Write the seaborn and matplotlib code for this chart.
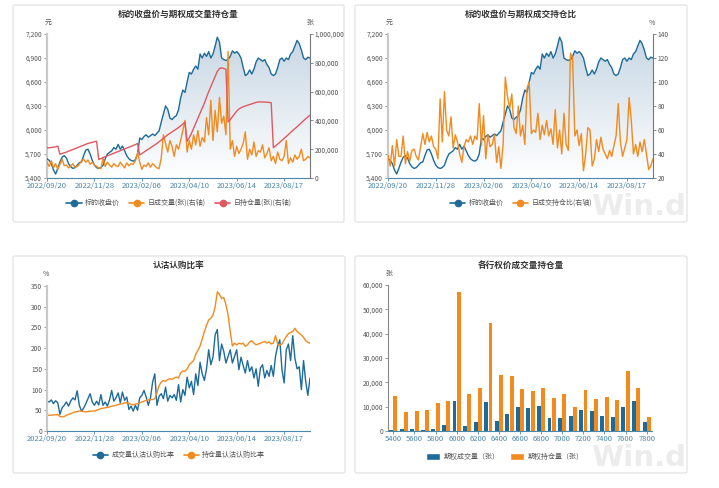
import numpy as np
import pandas as pd
import seaborn as sns
import matplotlib.pyplot as plt
from matplotlib.lines import Line2D
from matplotlib.patches import Patch, Polygon, FancyBboxPatch
from matplotlib.colors import LinearSegmentedColormap
from matplotlib.ticker import StrMethodFormatter

# ---- data (one point per trading-day step) ----
date_labels = ["2022/09/20", "2022/11/28", "2023/02/06", "2023/04/10", "2023/06/14", "2023/08/17"]
date_ticks = [0, 22, 44, 66, 88, 110]

close_price = [
    5640, 5620, 5580, 5500, 5450, 5520, 5600, 5660, 5680, 5650,
    5580, 5540, 5520, 5530, 5560, 5590, 5600, 5680, 5750, 5760,
    5700, 5620, 5560, 5530, 5520, 5530, 5560, 5640, 5700, 5720,
    5740, 5780, 5760, 5820, 5760, 5800, 5740, 5680, 5640, 5620,
    5610, 5630, 5700, 5900, 5880, 5920, 5940, 5910, 5930, 5950,
    5930, 5960, 5990, 6100, 6200, 6300, 6260, 6150, 6130, 6160,
    6180, 6250, 6400, 6500, 6470, 6600, 6720, 6700, 6760, 6800,
    6760, 6950, 6900, 6960, 6920, 6980, 6900, 6950, 7050, 7160,
    7100, 6900, 6880, 6870, 6880, 6920, 6990, 6960, 6980, 6950,
    6900, 6780, 6680, 6700, 6750, 6700, 6760, 6850, 6900, 6880,
    6860, 6880, 6820, 6780, 6700, 6680, 6700, 6780, 6880, 6900,
    6860, 6900, 6880, 6950, 6980, 7050, 7120, 7080, 7000, 6900,
    6880, 6910, 6900,
]

# daily option volume, thousands of contracts
daily_volume_k = [
    110, 80, 120, 70, 100, 60, 95, 130, 85, 90,
    70, 85, 100, 75, 80, 95, 120, 130, 110, 125,
    95, 110, 90, 80, 70, 65, 140, 80, 110, 90,
    75, 100, 85, 80, 110, 90, 70, 105, 85, 100,
    95, 120, 175, 110, 60, 90, 80, 105, 75, 100,
    85, 70, 65, 140, 300, 240, 180, 260, 220, 150,
    230, 200, 260, 330, 400, 180, 260, 200, 300, 230,
    330, 220, 280, 250, 420, 300, 540, 260, 470, 320,
    560, 380, 430, 300, 880, 200, 260, 150, 220, 170,
    200, 240, 320, 130, 200, 160, 250, 150, 190, 180,
    230, 140, 170, 210, 120, 150, 100, 180, 130, 120,
    150, 260, 100, 140, 110, 160, 130, 150, 200, 120,
    130, 150, 140,
]

# daily open interest, thousands of contracts
daily_oi_k = [
    210, 210, 212, 214, 216, 222, 165, 170, 175, 180,
    186, 192, 198, 204, 210, 216, 222, 228, 234, 240,
    244, 248, 252, 255, 128, 135, 142, 148, 154, 160,
    166, 172, 178, 184, 190, 196, 202, 208, 214, 220,
    226, 232, 240, 160, 170, 180, 190, 200, 210, 220,
    230, 240, 252, 264, 276, 288, 300, 310, 320, 330,
    340, 350, 362, 375, 388, 255, 280, 310, 345, 380,
    415, 450, 485, 520, 560, 600, 635, 670, 705, 740,
    760, 765, 760, 755, 390, 405, 425, 445, 465, 478,
    488, 495, 500, 505, 510, 515, 520, 525, 528, 528,
    528, 527, 526, 525, 522, 210, 222, 235, 248, 262,
    275, 288, 302, 316, 330, 343, 356, 370, 384, 398,
    411, 424, 437,
]

# volume / open interest, %
vol_oi_ratio = [
    39, 30, 47, 30, 52, 38, 38, 55, 32, 42,
    34, 43, 44, 38, 35, 46, 57, 48, 58, 50,
    55, 46, 44, 36, 86, 50, 92, 60, 55, 71,
    45, 56, 50, 40, 33, 46, 52, 50, 55, 48,
    55, 52, 82, 47, 72, 36, 56, 46, 48, 56,
    33, 46, 28, 48, 104, 88, 78, 90, 62, 57,
    80, 55, 64, 48, 95, 100, 57, 60, 58, 74,
    52, 64, 56, 68, 55, 61, 48, 77, 45, 60,
    40, 74, 48, 43, 124, 120, 55, 60, 47, 57,
    26, 40, 62, 60, 30, 36, 52, 42, 54, 44,
    40, 36, 43, 38, 47, 55, 82, 50, 38, 45,
    52, 87, 68, 40, 48, 38, 50, 42, 52, 40,
    27, 30, 36,
]

# put/call ratio by volume and by open interest, %
pcr_volume = [
    72, 70, 75, 66, 73, 68, 40, 56, 62, 70,
    60, 72, 80, 75, 97, 62, 48, 55, 66, 78,
    90, 70, 62, 72, 63, 88, 62, 70, 60, 75,
    98, 72, 80, 92, 68, 94, 74, 82, 52, 60,
    48, 62, 50, 80, 86, 98, 82, 62, 80, 118,
    138, 62, 84, 90, 78, 106, 72, 86, 80, 88,
    74, 112, 70, 100, 86, 130, 104, 120, 88, 138,
    110, 166, 138, 122, 150, 196, 160, 178, 232, 245,
    170, 210, 192, 164, 180, 196, 164, 180, 196, 148,
    178, 158, 140, 170, 144, 155, 128, 150, 108, 152,
    160, 128, 146, 132, 158, 132, 180, 205, 220, 148,
    116, 196, 210, 170, 230, 176, 150, 155, 100, 170,
    120, 86, 128,
]
pcr_oi = [
    38, 38, 38, 39, 39, 40, 35, 34, 35, 38,
    40, 42, 44, 46, 47, 48, 48, 47, 46, 47,
    48, 48, 48, 50, 52, 54, 55, 56, 57, 58,
    60, 61, 62, 64, 65, 66, 68, 68, 67, 64,
    63, 65, 66, 68, 70, 72, 74, 75, 76, 76,
    78, 92, 110, 118, 122, 120, 124, 126, 125, 128,
    130, 128, 140, 145, 144, 150, 160, 165, 170, 185,
    195, 205, 222, 240, 255, 268, 272, 280, 300, 336,
    330, 320, 322, 305, 280, 240, 205, 212, 208, 212,
    210, 212, 204, 208, 215, 218, 212, 208, 210, 212,
    214, 216, 212, 215, 210, 212, 230, 210, 207, 210,
    220, 228, 235, 238, 240, 248, 240, 236, 232, 226,
    218, 214, 212,
]

strikes = ["5400", "5500", "5600", "5700", "5800", "5900", "6000", "6100", "6200",
           "6300", "6400", "6500", "6600", "6700", "6800", "6900", "7000", "7100",
           "7200", "7300", "7400", "7500", "7600", "7700", "7800"]
strike_volume = [500, 700, 800, 600, 700, 2400, 12300, 2000, 3600, 11800, 4000, 7000,
                 9800, 9400, 10100, 5400, 5300, 6000, 8500, 8200, 6000, 5800, 9700, 12400, 3800]
strike_oi = [14500, 8000, 8200, 8700, 11700, 12300, 57000, 15300, 17500, 44300, 23000, 22700,
             17200, 16400, 17700, 13600, 15400, 9900, 17000, 13200, 13800, 12700, 24500, 17600, 5800]

BLUE = "#1d6b9a"
ORANGE = "#f28a1e"
RED = "#e0595e"
TEAL = "#4a88aa"
TXT = "#555555"

sns.set_theme(style="ticks")
plt.rcParams["font.family"] = ["Noto Sans CJK SC", "DejaVu Sans"]

W, H = 719, 488
fig = plt.figure(figsize=(W / 100, H / 100), dpi=100)


def box(x0, y0, x1, y1):
    return [x0 / W, 1 - y1 / H, (x1 - x0) / W, (y1 - y0) / H]


def fx(x):
    return x / W


def fy(y):
    return 1 - y / H


# cards
for x0, y0, x1, y1 in [(13, 5, 344, 222), (355, 5, 687, 222), (13, 256, 345, 473), (355, 256, 687, 473)]:
    fig.add_artist(FancyBboxPatch((fx(x0), fy(y1)), (x1 - x0) / W, (y1 - y0) / H,
                                  boxstyle="round,pad=0,rounding_size=0.003", transform=fig.transFigure,
                                  facecolor="white", edgecolor="#e0e0e0", linewidth=0.8, zorder=-5))


def style_left(ax, thick=True):
    sns.despine(ax=ax)
    ax.grid(False)
    ax.set_facecolor("none")
    ax.spines["left"].set_color("#c9c9c9" if thick else "#888888")
    ax.spines["left"].set_linewidth(1.6 if thick else 0.8)
    ax.spines["bottom"].set_color(TEAL)
    ax.spines["bottom"].set_linewidth(0.8)
    ax.tick_params(axis="y", length=2, width=0.6, color="#888888", labelsize=4.8, labelcolor=TXT, pad=1.5)
    ax.tick_params(axis="x", length=2.5, width=0.6, color=TEAL, labelsize=5.5, labelcolor=TEAL, pad=0.5)
    ax.set_xlabel("")
    ax.set_ylabel("")


def style_right(ax):
    for s in ["left", "top", "bottom"]:
        ax.spines[s].set_visible(False)
    ax.grid(False)
    ax.spines["right"].set_color("#777777")
    ax.spines["right"].set_linewidth(0.8)
    ax.tick_params(axis="y", length=2, width=0.6, color="#777777", labelsize=4.8, labelcolor=TXT, pad=1.5)
    ax.set_ylabel("")


def gradient_fill(ax, x, y, ymin, ymax):
    verts = [(x[0], ymin)] + list(zip(x, y)) + [(x[-1], ymin)]
    poly = Polygon(verts, closed=True, facecolor="none", edgecolor="none")
    ax.add_patch(poly)
    cmap = LinearSegmentedColormap.from_list("g", ["#ffffff", "#c6d6e3"])
    grad = np.linspace(1, 0, 256).reshape(-1, 1)
    im = ax.imshow(grad, aspect="auto", cmap=cmap, extent=[x[0], x[-1], ymin, ymax],
                   origin="upper", zorder=0)
    im.set_clip_path(poly)


def line_legend(items, cx, cy):
    handles = [Line2D([], [], color=c, marker="o", markersize=4.5, linewidth=1.2) for c, _ in items]
    fig.legend(handles, [lab for _, lab in items], loc="center", bbox_to_anchor=(fx(cx), fy(cy)),
               ncol=len(items), frameon=False, fontsize=5, handlelength=2.2, handletextpad=0.5,
               columnspacing=1.3, labelcolor=TXT)


def title(text, cx, cy):
    fig.text(fx(cx), fy(cy), text, ha="center", va="center", fontsize=6.2, color="#333333", weight="bold")


def unit(text, x, y):
    fig.text(fx(x), fy(y), text, ha="center", va="center", fontsize=5, color=TXT)


def watermark(x, y):
    fig.text(fx(x), fy(y), "Win.d", ha="right", va="bottom", fontsize=21, color="#ececec",
             weight="bold", family="DejaVu Sans")


idx = np.arange(len(close_price))
ts = pd.DataFrame({
    "idx": idx,
    "close": close_price,
    "vol": np.array(daily_volume_k) * 1000,
    "oi": np.array(daily_oi_k) * 1000,
    "ratio": vol_oi_ratio,
    "pcr_v": pcr_volume,
    "pcr_oi": pcr_oi,
})

# ---- panel 1: price + volume/OI ----
ax1 = fig.add_axes(box(47, 34, 310, 178))
gradient_fill(ax1, idx, close_price, 5400, 7200)
sns.lineplot(data=ts, x="idx", y="close", ax=ax1, color=BLUE, linewidth=1.0, zorder=3)
ax1.set_xlim(0, idx[-1])
ax1.set_ylim(5400, 7200)
ax1.set_yticks([5400, 5700, 6000, 6300, 6600, 6900, 7200])
ax1.yaxis.set_major_formatter(StrMethodFormatter("{x:,.0f}"))
ax1.set_xticks(date_ticks, date_labels)
style_left(ax1)
ax1b = ax1.twinx()
sns.lineplot(data=ts, x="idx", y="vol", ax=ax1b, color=ORANGE, linewidth=1.0)
sns.lineplot(data=ts, x="idx", y="oi", ax=ax1b, color=RED, linewidth=1.0)
ax1b.set_xlim(0, idx[-1])
ax1b.set_ylim(0, 1_000_000)
ax1b.set_yticks([0, 200_000, 400_000, 600_000, 800_000, 1_000_000])
ax1b.yaxis.set_major_formatter(StrMethodFormatter("{x:,.0f}"))
style_right(ax1b)
title("标的收盘价与期权成交量持仓量", 178.5, 14)
unit("元", 48, 23)
unit("张", 310, 23)
line_legend([(BLUE, "标的收盘价"), (ORANGE, "日成交量(张)(右轴)"), (RED, "日持仓量(张)(右轴)")], 179, 203)

# ---- panel 2: price + volume/OI ratio ----
ax2 = fig.add_axes(box(388, 34, 653, 178))
gradient_fill(ax2, idx, close_price, 5400, 7200)
sns.lineplot(data=ts, x="idx", y="close", ax=ax2, color=BLUE, linewidth=1.0, zorder=3)
ax2.set_xlim(0, idx[-1])
ax2.set_ylim(5400, 7200)
ax2.set_yticks([5400, 5700, 6000, 6300, 6600, 6900, 7200])
ax2.yaxis.set_major_formatter(StrMethodFormatter("{x:,.0f}"))
ax2.set_xticks(date_ticks, date_labels)
style_left(ax2)
ax2b = ax2.twinx()
sns.lineplot(data=ts, x="idx", y="ratio", ax=ax2b, color=ORANGE, linewidth=1.0)
ax2b.set_xlim(0, idx[-1])
ax2b.set_ylim(20, 140)
ax2b.set_yticks([20, 40, 60, 80, 100, 120, 140])
style_right(ax2b)
title("标的收盘价与期权成交持仓比", 521, 14)
unit("元", 389, 23)
unit("%", 652, 23)
line_legend([(BLUE, "标的收盘价"), (ORANGE, "日成交持仓比(右轴)")], 521, 203)
watermark(686, 221)

# ---- panel 3: put/call ratios ----
ax3 = fig.add_axes(box(47, 286, 310, 431))
sns.lineplot(data=ts, x="idx", y="pcr_v", ax=ax3, color=BLUE, linewidth=1.0)
sns.lineplot(data=ts, x="idx", y="pcr_oi", ax=ax3, color=ORANGE, linewidth=1.0)
ax3.set_xlim(0, idx[-1])
ax3.set_ylim(0, 350)
ax3.set_yticks([0, 50, 100, 150, 200, 250, 300, 350])
ax3.set_xticks(date_ticks, date_labels)
style_left(ax3)
title("认沽认购比率", 179, 265)
unit("%", 46, 274)
line_legend([(BLUE, "成交量认沽认购比率"), (ORANGE, "持仓量认沽认购比率")], 179, 455)

# ---- panel 4: volume / OI by strike ----
ax4 = fig.add_axes(box(388, 285, 652, 431))
bars = pd.DataFrame({
    "strike": strikes + strikes,
    "value": strike_volume + strike_oi,
    "kind": ["期权成交量（张）"] * len(strikes) + ["期权持仓量（张）"] * len(strikes),
})
sns.barplot(data=bars, x="strike", y="value", hue="kind", palette=[BLUE, ORANGE], ax=ax4,
            width=0.82, gap=0.1, saturation=1, linewidth=0, legend=False)
ax4.set_ylim(0, 60000)
ax4.set_yticks([0, 10000, 20000, 30000, 40000, 50000, 60000])
ax4.yaxis.set_major_formatter(StrMethodFormatter("{x:,.0f}"))
ax4.set_xticks(range(0, len(strikes), 2), strikes[::2])
ax4.set_xlim(-0.5, len(strikes) - 0.5)
style_left(ax4, thick=False)
title("各行权价成交量持仓量", 521, 265)
unit("张", 389, 274)
fig.legend([Patch(facecolor=BLUE), Patch(facecolor=ORANGE)], ["期权成交量（张）", "期权持仓量（张）"],
           loc="center", bbox_to_anchor=(fx(505), fy(457)), ncol=2, frameon=False, fontsize=5,
           handlelength=2.0, handleheight=1.1, handletextpad=0.5, columnspacing=1.5, labelcolor=TXT)
watermark(686, 472)

fig.savefig("out.png", dpi=100, facecolor="white")
